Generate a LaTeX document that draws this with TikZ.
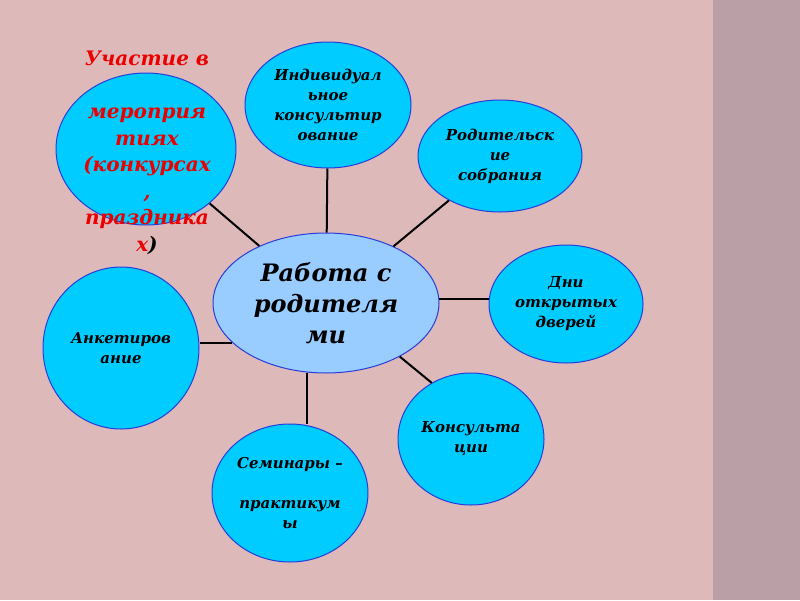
\documentclass[tikz,border=0pt]{standalone}
\usepackage{fontspec}
\setmainfont{DejaVu Serif}
\usetikzlibrary{shapes.geometric}
\definecolor{bgpink}{RGB}{221,185,186}
\definecolor{strip}{RGB}{186,160,166}
\definecolor{cyanfill}{RGB}{0,204,255}
\definecolor{hubfill}{RGB}{153,204,255}
\definecolor{rim}{RGB}{40,60,220}
\definecolor{redtext}{RGB}{235,0,0}

\begin{document}
\begin{tikzpicture}[x=1pt,y=-1pt,
  bubble/.style={ellipse,draw=rim,fill=cyanfill,line width=1pt,inner sep=0pt,align=center,font=\fontsize{15}{20}\selectfont\bfseries\itshape},
  hub/.style={bubble,fill=hubfill,font=\fontsize{24}{31}\selectfont\bfseries\itshape},
  link/.style={line width=2pt,draw=black}]
\useasboundingbox (0,0) rectangle (800,600);
\fill[bgpink] (0,0) rectangle (713,600);
\fill[strip] (713,0) rectangle (800,600);
\node[hub,minimum width=226pt,minimum height=140pt] (work) at (326,303) {Работа с\\родителя\\ми};
\node[bubble,minimum width=180pt,minimum height=152pt] (part) at (146,149) {};
\node[align=center,text=redtext,font=\fontsize{20}{26.5}\selectfont\bfseries\itshape] (parttext) at (147,153)
  {Участие в\\ \\мероприя\\тиях\\(конкурсах\\,\\праздника\\х{\color{black})}};
\node[bubble,minimum width=166pt,minimum height=126pt] (indiv) at (328,105) {Индивидуал\\ьное\\консультир\\ование};
\node[bubble,minimum width=164pt,minimum height=112pt] (meet) at (500,156) {Родительск\\ие\\собрания};
\node[bubble,minimum width=154pt,minimum height=118pt] (open) at (566,304) {Дни\\открытых\\дверей};
\node[bubble,minimum width=156pt,minimum height=162pt] (survey) at (121,348) {Анкетиров\\ание};
\node[bubble,minimum width=146pt,minimum height=132pt] (consult) at (471,439) {Консульта\\ции};
\node[bubble,minimum width=156pt,minimum height=138pt] (seminar) at (290,493) {Семинары –\\ \\практикум\\ы};
% connectors
\draw[link] (work) -- (part); \draw[link] (work) -- (indiv); \draw[link] (work.40) -- (meet.221);
\draw[link] (work.2) -- (work.2 -| open.west); \draw[link] (work.203) -- (work.203 -| survey.east);
\draw[link] (work.324) -- (consult.125); \draw[link] (work.255) -- (work.255 |- seminar.north);
\end{tikzpicture}
\end{document}
